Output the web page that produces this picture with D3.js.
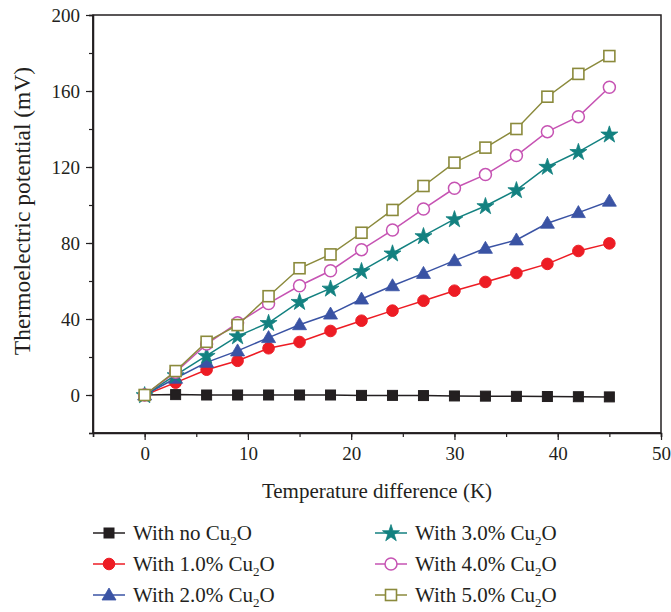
<!DOCTYPE html>
<html>
<head>
<meta charset="utf-8">
<script src="https://cdn.jsdelivr.net/npm/d3@7"></script>
<style>
  body { margin: 0; background: #fff; }
  svg { display: block; font-family: "Liberation Serif", "DejaVu Serif", serif; }
</style>
</head>
<body>
<div id="chart"></div>
<script>
const temps = [0, 3, 6, 9, 12, 15, 18, 21, 24, 27, 30, 33, 36, 39, 42, 45];
const noCu2O = [0, 0.2, 0, 0, 0, 0, 0, -0.2, -0.2, -0.3, -0.5, -0.6, -0.7, -0.8, -0.9, -1];
const cu1 = [0, 6.5, 13.3, 18, 24.6, 27.9, 33.7, 39.1, 44.4, 49.6, 54.9, 59.5, 64.2, 69, 75.8, 79.8];
const cu2 = [0, 8.8, 17.2, 23.2, 30.2, 37, 42.6, 50.5, 57.5, 64, 70.7, 77.2, 81.6, 90.4, 96, 102];
const cu3 = [0, 10.5, 20.7, 31, 38, 49.1, 56.1, 65.3, 74.6, 83.7, 92.6, 99.5, 107.9, 120.2, 128, 137.2];
const cu4 = [0, 12, 26.8, 38, 48.2, 57.5, 65.4, 76.5, 86.8, 97.9, 108.8, 116, 126, 138.6, 146.5, 162];
const cu5 = [0, 12.6, 28, 36.8, 52, 66.7, 74, 85.4, 97.4, 110, 122.3, 130.2, 140, 157, 169, 178.4];
const seriesNames = ["With no", "With 1.0%", "With 2.0%", "With 3.0%", "With 4.0%", "With 5.0%"];
const xTicks = [0, 10, 20, 30, 40, 50];
const yTicks = [0, 40, 80, 120, 160, 200];

const series = [
  { name: seriesNames[0], values: noCu2O, color: "#231f20", shape: "square", fill: true },
  { name: seriesNames[1], values: cu1, color: "#ed1c24", shape: "circle", fill: true },
  { name: seriesNames[2], values: cu2, color: "#3a53a4", shape: "triangle", fill: true },
  { name: seriesNames[3], values: cu3, color: "#138180", shape: "star", fill: true },
  { name: seriesNames[4], values: cu4, color: "#c653b3", shape: "circle", fill: false },
  { name: seriesNames[5], values: cu5, color: "#8b8a3c", shape: "square", fill: false }
];

const width = 671, height = 612;
const svg = d3.select("#chart").append("svg").attr("width", width).attr("height", height);

const x = d3.scaleLinear().domain([-5, 50]).range([93, 661]);
const y = d3.scaleLinear().domain([-20, 200]).range([433, 15]);

// frame
svg.append("rect")
  .attr("x", 93).attr("y", 15)
  .attr("width", 661 - 93).attr("height", 433 - 15)
  .attr("fill", "none").attr("stroke", "#231f20").attr("stroke-width", 1.5);

const styleAxis = (g) => {
  g.select(".domain").attr("stroke", "#231f20").attr("stroke-width", 1.5);
  g.selectAll(".tick line").attr("stroke", "#231f20").attr("stroke-width", 1.2);
  g.selectAll(".tick text").attr("fill", "#231f20").style("font-size", "19px")
    .style("font-family", "'Liberation Serif', serif");
};

// minor ticks
svg.append("g").attr("transform", "translate(0,433)")
  .call(d3.axisBottom(x).tickValues(d3.range(-5, 51, 5)).tickSize(4).tickFormat(""))
  .call(styleAxis);
svg.append("g").attr("transform", "translate(93,0)")
  .call(d3.axisLeft(y).tickValues(d3.range(-20, 201, 20)).tickSize(4).tickFormat(""))
  .call(styleAxis);

// major ticks
const xAxis = svg.append("g").attr("transform", "translate(0,433)")
  .call(d3.axisBottom(x).tickValues(xTicks).tickSize(7).tickPadding(7))
  .call(styleAxis);
const yAxis = svg.append("g").attr("transform", "translate(93,0)")
  .call(d3.axisLeft(y).tickValues(yTicks).tickSize(7).tickPadding(6))
  .call(styleAxis);
xAxis.select(".domain").attr("d", `M93,0H661`);
yAxis.select(".domain").attr("d", `M0,15V433`);

svg.append("text")
  .attr("x", 377).attr("y", 498)
  .attr("text-anchor", "middle")
  .attr("fill", "#231f20")
  .style("font-size", "21px")
  .text("Temperature difference (K)");

svg.append("text")
  .attr("transform", "translate(30,211) rotate(-90)")
  .attr("text-anchor", "middle")
  .attr("fill", "#231f20")
  .style("font-size", "23.5px")
  .text("Thermoelectric potential (mV)");

const starPath = d3.symbol().type(d3.symbolStar).size(90)();
const drawMarker = (g, s, cx, cy) => {
  const fill = s.fill ? s.color : "#fff";
  if (s.shape === "square") {
    const sz = s.fill ? 10 : 11;
    g.append("rect").attr("x", cx - sz / 2).attr("y", cy - sz / 2)
      .attr("width", sz).attr("height", sz)
      .attr("fill", fill).attr("stroke", s.color).attr("stroke-width", s.fill ? 1 : 1.6);
  } else if (s.shape === "circle") {
    g.append("circle").attr("cx", cx).attr("cy", cy).attr("r", s.fill ? 5.8 : 6)
      .attr("fill", fill).attr("stroke", s.color).attr("stroke-width", s.fill ? 1 : 1.5);
  } else if (s.shape === "triangle") {
    g.append("path").attr("d", "M0,-7L7,5H-7Z")
      .attr("transform", `translate(${cx},${cy})`)
      .attr("fill", fill).attr("stroke", s.color).attr("stroke-width", 0.8);
  } else if (s.shape === "star") {
    g.append("path").attr("d", starPath)
      .attr("transform", `translate(${cx},${cy + 0.5})`)
      .attr("fill", fill).attr("stroke", s.color).attr("stroke-width", 0.8);
  }
};

const line = d3.line().x((d) => x(d[0])).y((d) => y(d[1]));

series.forEach((s) => {
  const pts = temps.map((t, i) => [t, s.values[i]]);
  svg.append("path").datum(pts)
    .attr("d", line)
    .attr("fill", "none").attr("stroke", s.color).attr("stroke-width", 1.5);
});
series.forEach((s) => {
  const g = svg.append("g");
  temps.forEach((t, i) => drawMarker(g, s, x(t), y(s.values[i])));
});

// legend
const legendCols = [93, 375];
const legendRows = [533, 564, 595];
series.forEach((s, i) => {
  const lx = legendCols[Math.floor(i / 3)];
  const ly = legendRows[i % 3];
  const g = svg.append("g");
  g.append("line").attr("x1", lx).attr("x2", lx + 32).attr("y1", ly).attr("y2", ly)
    .attr("stroke", s.color).attr("stroke-width", 1.5);
  drawMarker(g, s, lx + 16, ly);
  const t = g.append("text").attr("x", lx + 40).attr("y", ly + 7)
    .attr("fill", "#231f20").style("font-size", "21px");
  t.append("tspan").text(`${s.name} Cu`);
  t.append("tspan").attr("dy", 5).style("font-size", "13px").text("2");
  t.append("tspan").attr("dy", -5).text("O");
});
</script>
</body>
</html>
